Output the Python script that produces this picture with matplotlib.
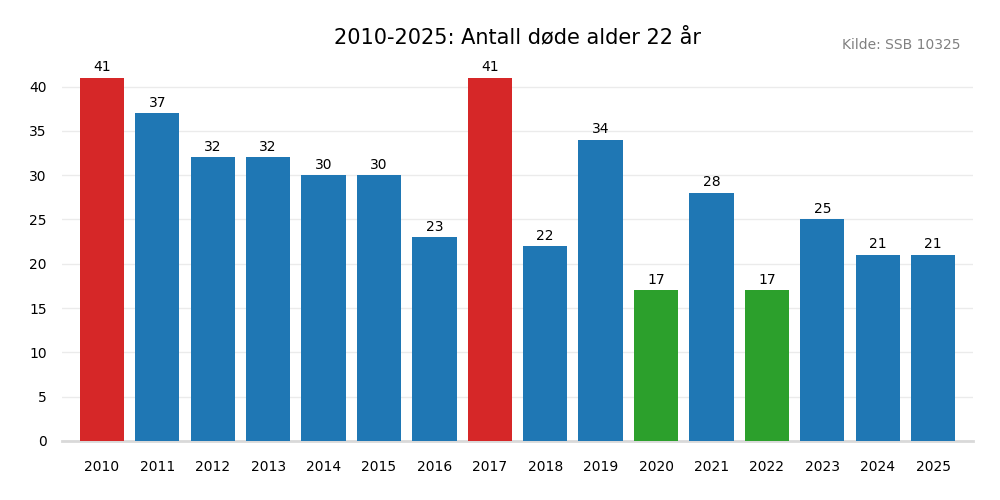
import matplotlib
matplotlib.use("Agg")
import matplotlib.pyplot as plt

years = [str(y) for y in range(2010, 2026)]
deaths = [41, 37, 32, 32, 30, 30, 23, 41, 22, 34, 17, 28, 17, 25, 21, 21]

# max -> red, min -> green, others blue
colors = []
for v in deaths:
    if v == max(deaths):
        colors.append("#d62728")
    elif v == min(deaths):
        colors.append("#2ca02c")
    else:
        colors.append("#1f77b4")

fig = plt.figure(figsize=(10, 5), dpi=100)
ax = fig.add_axes([0.062, 0.118, 0.911, 0.762])

x = range(len(years))
bars = ax.bar(x, deaths, width=0.8, color=colors, zorder=3)
for xi, v in zip(x, deaths):
    ax.text(xi, v + 0.4, str(v), ha="center", va="bottom", fontsize=10)

ax.set_xticks(list(x))
ax.set_xticklabels(years, fontsize=10)
ax.set_xlim(-0.72, len(years) - 1 + 0.72)
ax.set_ylim(0, 43)
ax.set_yticks(range(0, 45, 5))
ax.tick_params(axis="y", length=0, labelsize=10, pad=11)
ax.tick_params(axis="x", length=0, pad=14)
ax.grid(axis="y", color="#ebebeb", linewidth=1, zorder=0)
for s in ["top", "right", "left"]:
    ax.spines[s].set_visible(False)
ax.spines["bottom"].set_color("#d9d9d9")
ax.spines["bottom"].set_linewidth(2)

fig.text(0.517, 0.913, "2010-2025: Antall døde alder 22 år", ha="center", fontsize=15)
fig.text(0.96, 0.902, "Kilde: SSB 10325", ha="right", fontsize=10, color="gray")

fig.savefig("out.png", dpi=100)
